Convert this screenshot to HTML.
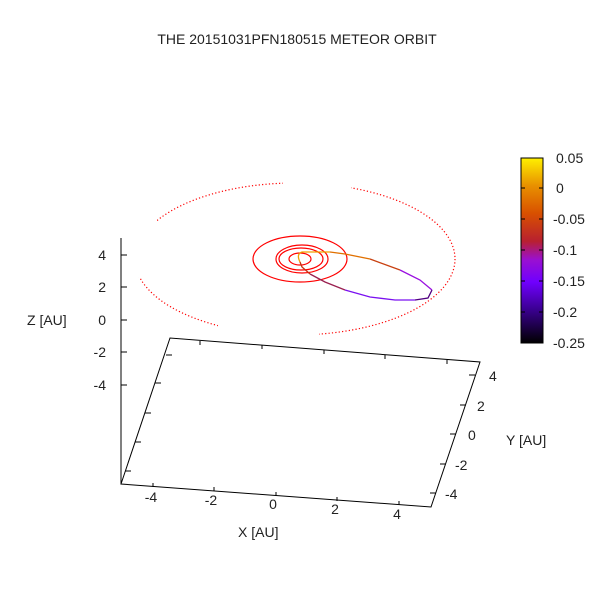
<!DOCTYPE html>
<html><head><style>body{margin:0;background:#fff}svg{display:block}text{font-family:"Liberation Sans",sans-serif;font-size:14px;fill:#222}</style></head>
<body>
<svg width="600" height="600" viewBox="0 0 600 600">
<defs>
<linearGradient id="cb" x1="0" y1="1" x2="0" y2="0">
<stop offset="0" stop-color="#000000"/>
<stop offset="0.18" stop-color="#3a0090"/>
<stop offset="0.33" stop-color="#7000ff"/>
<stop offset="0.45" stop-color="#9a10d0"/>
<stop offset="0.55" stop-color="#b82030"/>
<stop offset="0.7" stop-color="#d85000"/>
<stop offset="0.85" stop-color="#e89000"/>
<stop offset="1" stop-color="#fff000"/>
</linearGradient>
</defs>
<text x="297" y="44" text-anchor="middle">THE 20151031PFN180515 METEOR ORBIT</text>
<ellipse cx="295" cy="259" rx="160" ry="76" fill="none" stroke="#f00" stroke-width="1.2" stroke-dasharray="1.2 2.2"/>
<g fill="#fff">
<rect x="283" y="176" width="68" height="14"/>
<rect x="130" y="218" width="27" height="59"/>
<rect x="218" y="322" width="101" height="16"/>
</g>
<g fill="none" stroke="#f00" stroke-width="1.2">
<ellipse cx="300" cy="259" rx="47" ry="23"/>
<ellipse cx="302" cy="259" rx="26" ry="14"/>
<ellipse cx="301" cy="259" rx="22" ry="11"/>
<ellipse cx="300" cy="259" rx="11" ry="6"/>
</g>
<g fill="none" stroke-width="1.3">
<path d="M300,262 Q296,254 302,252 L330,252" stroke="#f0a000"/>
<path d="M330,252 L345,254 L370,259" stroke="#e07000"/>
<path d="M370,259 L400,270" stroke="#c84010"/>
<path d="M400,270 L420,280 L432,290" stroke="#9a10e0"/>
<path d="M432,290 L428,298 L415,300" stroke="#500080"/>
<path d="M415,300 L395,300 L370,297 L345,290" stroke="#7a10f0"/>
<path d="M345,290 L325,282 L310,274" stroke="#9a2050"/>
<path d="M310,274 L302,267 L300,262" stroke="#c83010"/>
</g>
<g stroke="#000" stroke-width="1" fill="none">
<path d="M121,238 V484"/>
<path d="M121,484 L170,338 L480,362 L431,507 Z"/>
<path d="M121,255h6M121,287h6M121,320h6M121,352h6M121,385h6"/>
<path d="M153,487v-4M214,491v-4M276,496v-4M337,501v-4M399,505v-4"/>
<path d="M200,341v4M262,345v4M324,350v4M385,355v4M447,360v4"/>
<path d="M475,375h-6M466,405h-6M456,434h-6M446,464h-6M436,493h-6"/>
<path d="M155,383h6M145,413h6M135,442h6M125,471h6M166,355h6"/>
</g>
<g text-anchor="end">
<text x="106" y="260">4</text><text x="106" y="292">2</text><text x="106" y="325">0</text><text x="106" y="357">-2</text><text x="106" y="390">-4</text>
</g>
<text x="27" y="325">Z [AU]</text>
<g text-anchor="middle">
<text x="151" y="502">-4</text><text x="211" y="505">-2</text><text x="273" y="509">0</text><text x="335" y="514">2</text><text x="397" y="519">4</text>
</g>
<text x="238" y="537">X [AU]</text>
<g>
<text x="489" y="381">4</text><text x="477" y="411">2</text><text x="468" y="440">0</text><text x="455" y="470">-2</text><text x="445" y="499">-4</text>
</g>
<text x="506" y="445">Y [AU]</text>
<rect x="521" y="158" width="22" height="185" fill="url(#cb)" stroke="#000"/>
<g stroke="#000"><path d="M521,188h4M539,188h4M521,219h4M539,219h4M521,250h4M539,250h4M521,281h4M539,281h4M521,312h4M539,312h4"/></g>
<g>
<text x="556" y="163">0.05</text><text x="556" y="193">0</text><text x="553" y="224">-0.05</text><text x="553" y="255">-0.1</text><text x="553" y="286">-0.15</text><text x="553" y="317">-0.2</text><text x="553" y="348">-0.25</text>
</g>
</svg>
</body></html>
